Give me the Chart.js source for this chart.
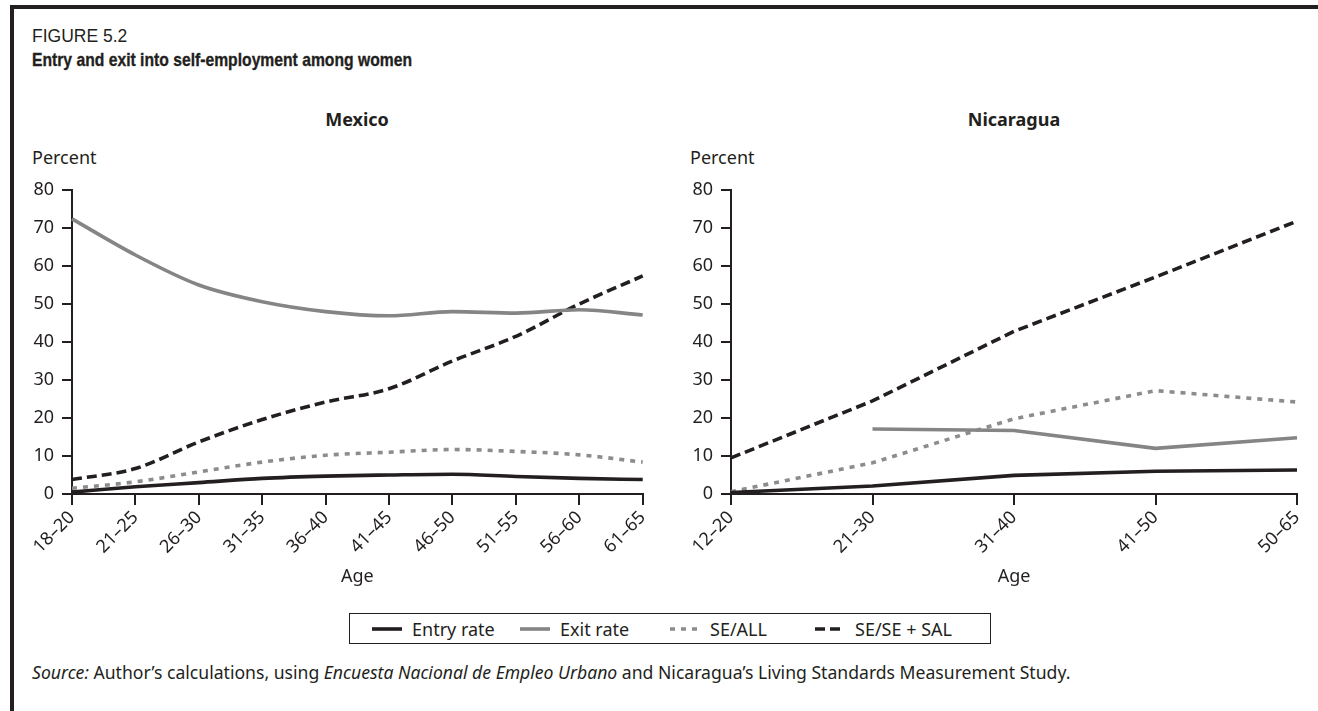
<!DOCTYPE html>
<html>
<head>
<meta charset="utf-8">
<script src="https://cdn.jsdelivr.net/npm/chart.js@4.4.0/dist/chart.umd.min.js"></script>
<style>
  html, body { margin: 0; padding: 0; background: #fff; }
  body { width: 1318px; height: 711px; position: relative; overflow: hidden;
         font-family: "Noto Sans", "Open Sans", sans-serif; color: #231f20; }
  #frame { position: absolute; left: 10px; top: 5px; width: 1320px; height: 720px;
           border-left: 4px solid #231f20; border-top: 4px solid #231f20; }
  .abs { position: absolute; white-space: nowrap; }
  #fig { left: 32px; top: 26px; font-family: "Liberation Sans", Arial, sans-serif; font-size: 17.5px; }
  #ttl { left: 32px; top: 49px; font-family: "Liberation Sans", Arial, sans-serif;
         font-weight: bold; font-size: 19px; transform-origin: 0 50%;
         -webkit-text-stroke: 0.35px #231f20; }
  .panel { font-weight: bold; font-size: 18px; transform: translateX(-50%); }
  .pct { font-size: 18px; }
  canvas { position: absolute; }
  #legend { position: absolute; left: 349px; top: 613px; width: 640px; height: 29px;
            border: 1px solid #231f20; font-size: 18px; }
  #legend .item { position: absolute; top: 0; height: 29px; display: flex; align-items: center; }
  #legend svg { margin-right: 10px; }
  #src { left: 32px; top: 660px; font-size: 17.6px; }
</style>
</head>
<body>
<div id="frame"></div>
<div class="abs" id="fig">FIGURE 5.2</div>
<div class="abs" id="ttl">Entry and exit into self-employment among women</div>

<div class="abs panel" style="left:357px; top:107px;">Mexico</div>
<div class="abs panel" style="left:1014px; top:107px;">Nicaragua</div>
<div class="abs pct" style="left:32px; top:145px;">Percent</div>
<div class="abs pct" style="left:690px; top:145px;">Percent</div>

<canvas id="mx" width="640" height="430" style="left:20px; top:170px;"></canvas>
<canvas id="ni" width="638" height="430" style="left:680px; top:170px;"></canvas>

<div id="legend"></div>

<div class="abs" id="src"><i>Source:</i> Author’s calculations, using <i>Encuesta Nacional de Empleo Urbano</i> and Nicaragua’s Living Standards Measurement Study.</div>

<script>
// Age groups
const mexicoAges = ['18–20', '21–25', '26–30', '31–35', '36–40', '41–45', '46–50', '51–55', '56–60', '61–65'];
const nicaraguaAges = ['12–20', '21–30', '31–40', '41–50', '50–65'];

// Mexico, percent
const mexicoEntry  = [0.5, 1.9, 3.0, 4.1, 4.7, 5.0, 5.2, 4.6, 4.1, 3.8];
const mexicoExit   = [72.4, 62.9, 55.0, 50.6, 48.0, 46.9, 48.0, 47.6, 48.5, 47.1];
const mexicoSeAll  = [1.5, 3.2, 5.8, 8.4, 10.2, 11.0, 11.7, 11.2, 10.3, 8.4];
const mexicoSeSal  = [3.8, 6.7, 13.7, 19.6, 24.2, 27.7, 35.0, 41.5, 50.0, 57.4];

// Nicaragua, percent (no exit rate for the youngest group)
const nicaraguaEntry = [0.4, 2.1, 4.9, 6.0, 6.3];
const nicaraguaExit  = [null, 17.1, 16.7, 12.0, 14.8];
const nicaraguaSeAll = [0.6, 8.2, 19.8, 27.2, 24.2];
const nicaraguaSeSal = [9.5, 24.5, 42.8, 57.1, 71.8];

const yTicks = [0, 10, 20, 30, 40, 50, 60, 70, 80];

const INK = '#231f20';
const GREY = '#858585';
const seriesNames = ['Entry rate', 'Exit rate', 'SE/ALL', 'SE/SE + SAL'];
const styles = [
  { color: INK,  dash: [] },
  { color: GREY, dash: [] },
  { color: '#8c8c8c', dash: [5, 6] },
  { color: INK,  dash: [10, 5] }
];
const LINE_W = 3.6;
const FONT = { family: '"Noto Sans", "Open Sans", sans-serif', size: 18 };

// Condensed heading: squeeze the bold title to its set width
const ttl = document.getElementById('ttl');
ttl.style.transform = `scaleX(${380 / ttl.getBoundingClientRect().width})`;

function buildChart(id, labels, series, yWidth, padRight, smooth) {
  const datasets = series.map((vals, i) => ({
    label: seriesNames[i],
    data: vals,
    borderColor: styles[i].color,
    borderDash: styles[i].dash,
    borderWidth: LINE_W,
    borderCapStyle: 'butt',
    pointRadius: 0,
    fill: false,
    spanGaps: false,
    tension: smooth ? 0.3 : 0,
    cubicInterpolationMode: smooth ? 'monotone' : 'default'
  }));
  return new Chart(document.getElementById(id), {
    type: 'line',
    data: { labels, datasets },
    options: {
      responsive: false,
      animation: false,
      events: [],
      layout: { padding: { top: 20, right: padRight, left: 0, bottom: 0 } },
      plugins: { legend: { display: false }, tooltip: { enabled: false } },
      scales: {
        x: {
          offset: false,
          grid: { drawOnChartArea: false, drawTicks: true, tickLength: 11, color: INK, lineWidth: 2 },
          border: { color: INK, width: 2 },
          ticks: { color: INK, font: FONT, minRotation: 45, maxRotation: 45, autoSkip: false, padding: 2 },
          title: { display: true, text: 'Age', color: INK, font: FONT, padding: { top: 0, bottom: 12 } },
          afterFit: s => { s.height = 106; }
        },
        y: {
          min: 0, max: 80,
          afterBuildTicks: s => { s.ticks = yTicks.map(v => ({ value: v })); },
          grid: { drawOnChartArea: false, drawTicks: true, tickLength: 10, color: INK, lineWidth: 2 },
          border: { color: INK, width: 2 },
          ticks: { color: INK, font: FONT, padding: 8 },
          afterFit: s => { s.width = yWidth; }
        }
      }
    }
  });
}

buildChart('mx', mexicoAges, [mexicoEntry, mexicoExit, mexicoSeAll, mexicoSeSal], 52, 17, true);
buildChart('ni', nicaraguaAges, [nicaraguaEntry, nicaraguaExit, nicaraguaSeAll, nicaraguaSeSal], 51, 21, false);

// Shared legend below both panels
const legend = document.getElementById('legend');
const legendX = [22, 170, 320, 465];
seriesNames.forEach((name, i) => {
  const item = document.createElement('div');
  item.className = 'item';
  item.style.left = legendX[i] + 'px';
  const dash = styles[i].dash.length ? ` stroke-dasharray="${styles[i].dash.join(' ')}"` : '';
  item.innerHTML = `<svg width="30" height="8"><line x1="0" y1="4" x2="30" y2="4" stroke="${styles[i].color}" stroke-width="${LINE_W}"${dash}/></svg><span>${name}</span>`;
  legend.appendChild(item);
});
</script>
</body>
</html>
